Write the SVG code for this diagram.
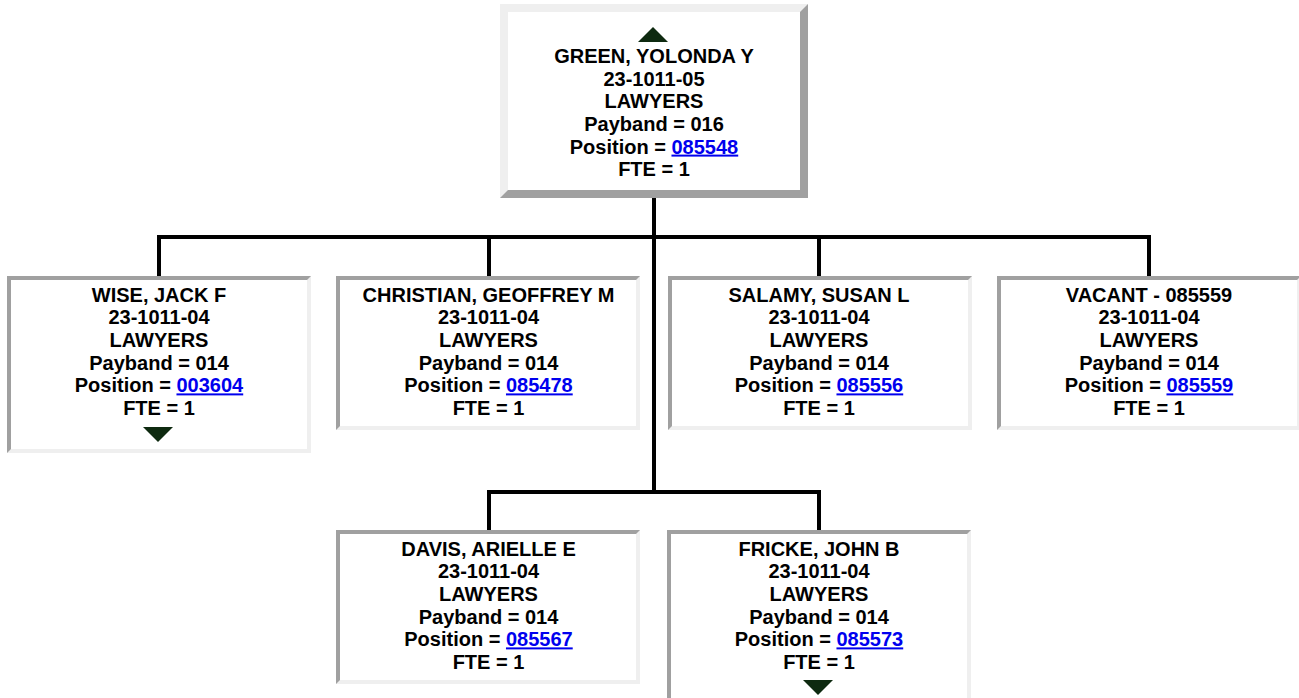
<svg xmlns="http://www.w3.org/2000/svg" width="1299" height="698" viewBox="0 0 1299 698">
<style>
.t{font-family:"Liberation Sans",Arial,sans-serif;font-weight:bold;font-size:20px;fill:#000;text-anchor:middle}
.lk{fill:#0000ee;text-decoration:underline}
.lt{fill:#efefef}
.dk{fill:#a0a0a0}
.in{fill:#fff}
.tri{fill:#0e2a10}
.c{stroke:#000;stroke-width:4;fill:none}
</style>
<rect width="1299" height="698" fill="#fff"/>
<g id="connectors">
<path class="c" d="M654 198V492"/>
<path class="c" d="M157 237H1151"/>
<path class="c" d="M159 237V276M489 237V276M819 237V276M1149 237V276"/>
<path class="c" d="M487 492H821"/>
<path class="c" d="M489 492V530M819 492V530"/>
</g>
<g id="node-green">
<rect class="dk" x="500" y="4" width="308" height="194"/>
<polygon class="lt" points="500,4 808,4 800,12 508,12 508,190 500,198"/>
<rect class="in" x="508" y="12" width="292" height="178"/>
<polygon class="tri" points="638,42 653,27 668,42"/>
<text class="t" x="654" y="63">GREEN, YOLONDA Y</text>
<text class="t" x="654" y="85.7">23-1011-05</text>
<text class="t" x="654" y="108.3">LAWYERS</text>
<text class="t" x="654" y="131">Payband = 016</text>
<text class="t" x="654" y="153.6">Position = <tspan class="lk">085548</tspan></text>
<text class="t" x="654" y="176.3">FTE = 1</text>
</g>
<g id="node-wise">
<rect class="lt" x="7" y="276" width="304" height="177"/>
<polygon class="dk" points="7,276 311,276 307,280 11,280 11,449 7,453"/>
<rect class="in" x="11" y="280" width="296" height="169"/>
<text class="t" x="159" y="301.7">WISE, JACK F</text>
<text class="t" x="159" y="324.4">23-1011-04</text>
<text class="t" x="159" y="347">LAWYERS</text>
<text class="t" x="159" y="369.7">Payband = 014</text>
<text class="t" x="159" y="392.4">Position = <tspan class="lk">003604</tspan></text>
<text class="t" x="159" y="415">FTE = 1</text>
<polygon class="tri" points="143,427 173,427 158,442"/>
</g>
<g id="node-christian">
<rect class="lt" x="336" y="276" width="304" height="154"/>
<polygon class="dk" points="336,276 640,276 636,280 340,280 340,426 336,430"/>
<rect class="in" x="340" y="280" width="296" height="146"/>
<text class="t" x="488.5" y="301.7">CHRISTIAN, GEOFFREY M</text>
<text class="t" x="488.5" y="324.4">23-1011-04</text>
<text class="t" x="488.5" y="347">LAWYERS</text>
<text class="t" x="488.5" y="369.7">Payband = 014</text>
<text class="t" x="488.5" y="392.4">Position = <tspan class="lk">085478</tspan></text>
<text class="t" x="488.5" y="415">FTE = 1</text>
</g>
<g id="node-salamy">
<rect class="lt" x="668" y="276" width="304" height="154"/>
<polygon class="dk" points="668,276 972,276 968,280 672,280 672,426 668,430"/>
<rect class="in" x="672" y="280" width="296" height="146"/>
<text class="t" x="819" y="301.7">SALAMY, SUSAN L</text>
<text class="t" x="819" y="324.4">23-1011-04</text>
<text class="t" x="819" y="347">LAWYERS</text>
<text class="t" x="819" y="369.7">Payband = 014</text>
<text class="t" x="819" y="392.4">Position = <tspan class="lk">085556</tspan></text>
<text class="t" x="819" y="415">FTE = 1</text>
</g>
<g id="node-vacant">
<rect class="lt" x="997" y="276" width="304" height="154"/>
<polygon class="dk" points="997,276 1301,276 1297,280 1001,280 1001,426 997,430"/>
<rect class="in" x="1001" y="280" width="296" height="146"/>
<text class="t" x="1149" y="301.7">VACANT - 085559</text>
<text class="t" x="1149" y="324.4">23-1011-04</text>
<text class="t" x="1149" y="347">LAWYERS</text>
<text class="t" x="1149" y="369.7">Payband = 014</text>
<text class="t" x="1149" y="392.4">Position = <tspan class="lk">085559</tspan></text>
<text class="t" x="1149" y="415">FTE = 1</text>
</g>
<g id="node-davis">
<rect class="lt" x="336" y="530" width="304" height="154"/>
<polygon class="dk" points="336,530 640,530 636,534 340,534 340,680 336,684"/>
<rect class="in" x="340" y="534" width="296" height="146"/>
<text class="t" x="488.5" y="555.7">DAVIS, ARIELLE E</text>
<text class="t" x="488.5" y="578.4">23-1011-04</text>
<text class="t" x="488.5" y="601">LAWYERS</text>
<text class="t" x="488.5" y="623.7">Payband = 014</text>
<text class="t" x="488.5" y="646.4">Position = <tspan class="lk">085567</tspan></text>
<text class="t" x="488.5" y="669">FTE = 1</text>
</g>
<g id="node-fricke">
<rect class="lt" x="667" y="530" width="304" height="177"/>
<polygon class="dk" points="667,530 971,530 967,534 671,534 671,703 667,707"/>
<rect class="in" x="671" y="534" width="296" height="169"/>
<text class="t" x="819" y="555.7">FRICKE, JOHN B</text>
<text class="t" x="819" y="578.4">23-1011-04</text>
<text class="t" x="819" y="601">LAWYERS</text>
<text class="t" x="819" y="623.7">Payband = 014</text>
<text class="t" x="819" y="646.4">Position = <tspan class="lk">085573</tspan></text>
<text class="t" x="819" y="669">FTE = 1</text>
<polygon class="tri" points="803,680 833,680 818,695"/>
</g>
</svg>
